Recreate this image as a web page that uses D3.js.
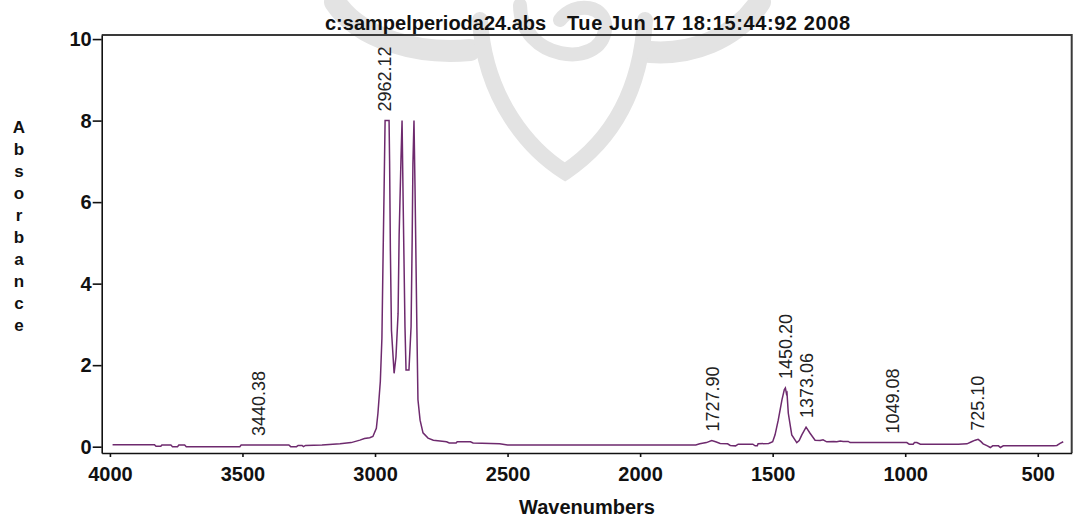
<!DOCTYPE html>
<html><head><meta charset="utf-8">
<script src="https://cdn.jsdelivr.net/npm/d3@7"></script>
<style>body{margin:0;background:#fff} svg{display:block}</style>
</head><body><svg id="c" width="1073" height="519"></svg>
<script>
// ---- data ----
const wavenumbers = [3990,3900,3832,3826,3808,3804,3770,3764,3745,3740,3718,3712,3510,3505,3325,3318,3296,3290,3275,3270,3262,3200,3132,3090,3057,3040,3020,3008,2995,2989,2980,2974,2970,2966,2962,2947,2945,2942,2938,2928,2921,2913,2909,2902,2898,2894,2887,2883,2872,2864,2860,2857,2853,2849,2842,2838,2830,2819,2800,2780,2755,2730,2720,2694,2690,2640,2630,2530,2500,2380,1790,1775,1750,1730,1715,1698,1670,1660,1640,1630,1575,1566,1558,1555,1515,1500,1491,1479,1465,1456,1452,1448,1446,1441,1428,1409,1400,1390,1374,1359,1340,1321,1310,1296,1270,1258,1245,1234,1215,1208,994,985,970,965,956,943,800,767,750,736,725,715,706,690,679,670,660,648,641,630,440,428,416,404];
const absorbance = [0.05,0.05,0.05,0.01,0.01,0.04,0.04,0.0,0.0,0.04,0.04,0.0,0.0,0.04,0.04,0.0,0.0,0.03,0.03,0.0,0.03,0.04,0.07,0.1,0.16,0.2,0.22,0.25,0.45,0.82,1.6,2.66,4.5,6.2,8.0,8.0,7.0,4.8,2.86,1.8,2.2,3.27,5.2,7.07,8.0,6.05,2.94,1.88,1.88,2.94,5.0,6.95,8.0,6.3,2.86,1.15,0.65,0.34,0.21,0.16,0.14,0.12,0.09,0.09,0.12,0.12,0.09,0.07,0.04,0.04,0.04,0.07,0.1,0.15,0.12,0.08,0.07,0.03,0.02,0.06,0.06,0.02,0.02,0.07,0.08,0.12,0.29,0.65,1.15,1.4,1.44,1.3,1.32,0.82,0.29,0.1,0.15,0.29,0.48,0.33,0.16,0.15,0.17,0.12,0.13,0.12,0.14,0.13,0.13,0.1,0.1,0.06,0.06,0.1,0.1,0.06,0.06,0.07,0.12,0.16,0.18,0.13,0.07,0.02,-0.02,0.02,0.02,0.02,-0.02,0.02,0.02,0.03,0.08,0.12];
const peakWavenumbers = [3440.38, 2962.12, 1727.90, 1450.20, 1373.06, 1049.08, 725.10];
const peakLabels = ["3440.38","2962.12","1727.90","1450.20","1373.06","1049.08","725.10"];
const peakHeights = [0.04, 8.0, 0.15, 1.44, 0.48, 0.1, 0.17];
const xTicks = [4000,3500,3000,2500,2000,1500,1000,500];
const yTicks = [0,2,4,6,8,10];
const titleFile = "c:sampelperioda24.abs";
const titleDate = "Tue Jun 17 18:15:44:92 2008";
const yTitle = "Absorbance";
const xTitle = "Wavenumbers";

// ---- drawing ----
(function(){
const svg = d3.select("#c");
const FONT = "'Liberation Sans', Arial, sans-serif";
const pl = 101.7, pr = 1071.7, pt = 35, pb = 453;
const x = d3.scaleLinear().domain([4031, 372]).range([pl, pr]);
const y = d3.scaleLinear().domain([-0.155, 10.1]).range([pb, pt]);

// faint background watermark (decorative)
const wm = svg.append("g").attr("fill","none").attr("stroke","#e3e3e3").attr("stroke-linecap","round");
wm.append("path").attr("d","M335,2 C360,40 420,55 470,50").attr("stroke-width",22);
wm.append("path").attr("d","M760,2 C735,40 690,55 650,52").attr("stroke-width",22);
wm.append("path").attr("d","M480,20 C485,100 530,150 565,172 C605,145 640,100 645,20").attr("stroke-width",16);
wm.append("path").attr("d","M520,5 C520,60 600,70 605,30 C608,5 575,0 560,20").attr("stroke-width",14);

// frame (top and right)
svg.append("path")
  .attr("d", `M${pl},${pt}H${pr}V${pb}`)
  .attr("fill","none").attr("stroke","#3a3a3a").attr("stroke-width",2);

// y axis
const gy = svg.append("g").attr("transform",`translate(${pl},0)`)
  .call(d3.axisLeft(y).tickValues(yTicks).tickSize(9).tickSizeOuter(0).tickPadding(1));
gy.select(".domain").attr("stroke","#111").attr("stroke-width",1.6);
gy.selectAll(".tick line").attr("stroke","#111").attr("stroke-width",1.6);
gy.selectAll("text").attr("font-family",FONT).attr("font-weight","bold").attr("font-size",20).attr("fill","#111");

// x axis
const gx = svg.append("g").attr("transform",`translate(0,${pb})`)
  .call(d3.axisBottom(x).tickValues(xTicks).tickSize(4).tickSizeOuter(0).tickPadding(10).tickFormat(d3.format("d")));
gx.select(".domain").attr("stroke","#111").attr("stroke-width",1.6);
gx.selectAll(".tick line").attr("stroke","#111").attr("stroke-width",1.6);
gx.selectAll("text").attr("font-family",FONT).attr("font-weight","bold").attr("font-size",20).attr("fill","#111");

// spectrum
const pts = wavenumbers.map((w,i)=>[w, absorbance[i]]);
svg.append("path").datum(pts)
  .attr("d", d3.line().x(d=>x(d[0])).y(d=>y(d[1])))
  .attr("fill","none").attr("stroke","#6e2a6e").attr("stroke-width",1.5).attr("stroke-linejoin","miter");

// peak labels
peakWavenumbers.forEach((w,i)=>{
  svg.append("text")
    .attr("transform",`translate(${x(w)},${y(peakHeights[i])-9}) rotate(-90)`)
    .attr("dy","0.35em")
    .attr("text-anchor","start")
    .attr("font-family",FONT).attr("font-size",18).attr("fill","#222")
    .text(peakLabels[i]);
});

// title
svg.append("text").attr("x",325).attr("y",30).attr("font-family",FONT).attr("font-weight","bold")
  .attr("font-size",20).attr("fill","#111").text(titleFile);
svg.append("text").attr("x",567).attr("y",30).attr("font-family",FONT).attr("font-weight","bold")
  .attr("font-size",20).attr("fill","#111").attr("textLength",283).attr("lengthAdjust","spacing").text(titleDate);

// y title (stacked letters)
yTitle.split("").forEach((ch,i)=>{
  svg.append("text").attr("x",19).attr("y",133+i*22).attr("text-anchor","middle")
    .attr("font-family",FONT).attr("font-weight","bold").attr("font-size",17).attr("fill","#111").text(ch);
});

// x title
svg.append("text").attr("x",587).attr("y",514).attr("text-anchor","middle")
  .attr("font-family",FONT).attr("font-weight","bold").attr("font-size",20).attr("fill","#111").text(xTitle);
})();
</script></body></html>
